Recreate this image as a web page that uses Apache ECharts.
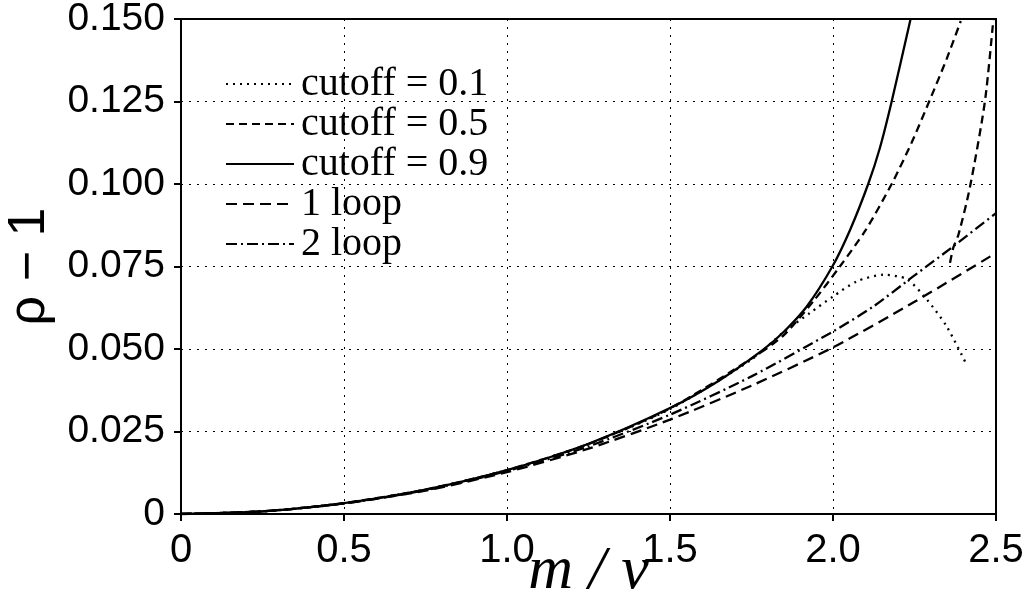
<!DOCTYPE html>
<html>
<head>
<meta charset="utf-8">
<script src="https://cdn.jsdelivr.net/npm/echarts@6/dist/echarts.min.js"></script>
<style>
html,body{margin:0;padding:0;background:#fff;}
#chart{width:1029px;height:594px;}
</style>
</head>
<body>
<div id="chart"></div>
<script>
// x = m / v, y = rho - 1
const xTicks = [0, 0.5, 1.0, 1.5, 2.0, 2.5];
const yTicks = [0, 0.025, 0.05, 0.075, 0.1, 0.125, 0.15];

const cut01X = [0, 0.25, 0.5, 0.75, 1.0, 1.25, 1.5, 1.75, 1.847, 1.929, 2.0, 2.073, 2.154, 2.226, 2.287, 2.349, 2.41];
const cut01Y = [0, 0.0008, 0.0033, 0.0074, 0.0133, 0.0212, 0.0318, 0.0468, 0.0550, 0.0609, 0.0659, 0.0705, 0.0725, 0.0712, 0.0651, 0.0568, 0.0452];

const cut05X = [0, 0.25, 0.5, 0.75, 1.0, 1.25, 1.5, 1.75, 1.847, 1.94, 2.021, 2.10, 2.18, 2.241, 2.295, 2.349, 2.392];
const cut05Y = [0, 0.0008, 0.0033, 0.0074, 0.0133, 0.0212, 0.0320, 0.0471, 0.0540, 0.0645, 0.0750, 0.0860, 0.1000, 0.1125, 0.1250, 0.1380, 0.1494];

const cut05bX = [2.359, 2.369, 2.385, 2.42, 2.466, 2.492];
const cut05bY = [0.0761, 0.0807, 0.0847, 0.0990, 0.1250, 0.1500];

const cut09X = [0, 0.25, 0.5, 0.75, 1.0, 1.25, 1.5, 1.65, 1.786, 1.85, 1.919, 1.998, 2.052, 2.108, 2.144, 2.18, 2.238];
const cut09Y = [0, 0.0008, 0.0033, 0.0074, 0.0133, 0.0213, 0.0321, 0.0404, 0.0498, 0.0553, 0.0628, 0.0750, 0.0860, 0.1000, 0.1110, 0.1250, 0.1500];

const loop1X = [0, 0.25, 0.5, 0.75, 1.0, 1.25, 1.5, 1.75, 2.0, 2.25, 2.5];
const loop1Y = [0, 0.0008, 0.0032, 0.0071, 0.0127, 0.0198, 0.0286, 0.0389, 0.0505, 0.0643, 0.0791];

const loop2X = [0, 0.25, 0.5, 0.75, 1.0, 1.25, 1.5, 1.75, 2.0, 2.124, 2.246, 2.369, 2.5];
const loop2Y = [0, 0.0008, 0.0032, 0.0072, 0.0130, 0.0205, 0.0301, 0.0417, 0.0553, 0.0629, 0.0720, 0.0811, 0.0912];

const zip = (xs, ys) => xs.map((x, i) => [x, ys[i]]);

const chart = echarts.init(document.getElementById('chart'), null, {renderer: 'canvas'});

const baseLine = (name, xs, ys, type, width) => ({
  name: name,
  type: 'line',
  data: zip(xs, ys),
  smooth: 0.25,
  symbol: 'none',
  clip: true,
  lineStyle: {color: '#000', width: width || 2.3, type: type},
  itemStyle: {color: '#000'},
  emphasis: {disabled: true}
});

chart.setOption({
  animation: false,
  backgroundColor: '#fff',
  grid: {left: 181, right: 33, top: 19, bottom: 80, containLabel: false, outerBoundsMode: 'none',
         show: true, borderColor: '#000', borderWidth: 2, backgroundColor: 'transparent'},
  legend: {
    orient: 'vertical',
    left: 220,
    top: 59,
    itemWidth: 68,
    itemHeight: 14,
    itemGap: 0,
    itemStyle: {opacity: 0},
    data: ['cutoff = 0.1', 'cutoff = 0.5', 'cutoff = 0.9', '1 loop', '2 loop'],
    textStyle: {fontFamily: '"Liberation Serif", "Times New Roman", serif', fontSize: 40, color: '#000', padding: [0, 0, 0, 2]},
    selectedMode: false
  },
  xAxis: {
    type: 'value',
    min: 0, max: 2.5, interval: 0.5,
    name: 'm / v',
    nameLocation: 'middle',
    nameGap: 27,
    nameMoveOverlap: false,
    nameTextStyle: {fontFamily: '"Liberation Serif", "Times New Roman", serif', fontStyle: 'italic', fontSize: 62, color: '#000'},
    axisLine: {show: true, lineStyle: {color: '#000', width: 2}},
    axisTick: {show: true, inside: false, length: 7, lineStyle: {color: '#000', width: 2}},
    axisLabel: {
      fontFamily: '"Liberation Sans", Arial, sans-serif', fontSize: 40, color: '#000', margin: 17,
      formatter: v => v === 0 ? '0' : v.toFixed(1)
    },
    splitLine: {show: true, lineStyle: {color: '#000', width: 1, type: [2, 6]}}
  },
  yAxis: {
    type: 'value',
    min: 0, max: 0.15, interval: 0.025,
    name: 'ρ − 1',
    nameLocation: 'middle',
    nameGap: 125,
    nameRotate: 90,
    nameTextStyle: {fontFamily: '"Liberation Sans", Arial, sans-serif', fontSize: 52, color: '#000'},
    axisLine: {show: true, lineStyle: {color: '#000', width: 2}},
    axisTick: {show: true, inside: false, length: 7, lineStyle: {color: '#000', width: 2}},
    axisLabel: {
      fontFamily: '"Liberation Sans", Arial, sans-serif', fontSize: 39, color: '#000', margin: 16,
      formatter: v => v === 0 ? '0' : v.toFixed(3)
    },
    splitLine: {show: true, lineStyle: {color: '#000', width: 1, type: [2, 6]}}
  },
  series: [
    baseLine('cutoff = 0.1', cut01X, cut01Y, [2, 5]),
    baseLine('cutoff = 0.5', cut05X, cut05Y, [8, 5]),
    baseLine('cutoff = 0.5 (branch)', cut05bX, cut05bY, [8, 5]),
    baseLine('cutoff = 0.9', cut09X, cut09Y, 'solid'),
    baseLine('1 loop', loop1X, loop1Y, [11, 6]),
    baseLine('2 loop', loop2X, loop2Y, [11, 4, 2, 4])
  ]
});
</script>
</body>
</html>
